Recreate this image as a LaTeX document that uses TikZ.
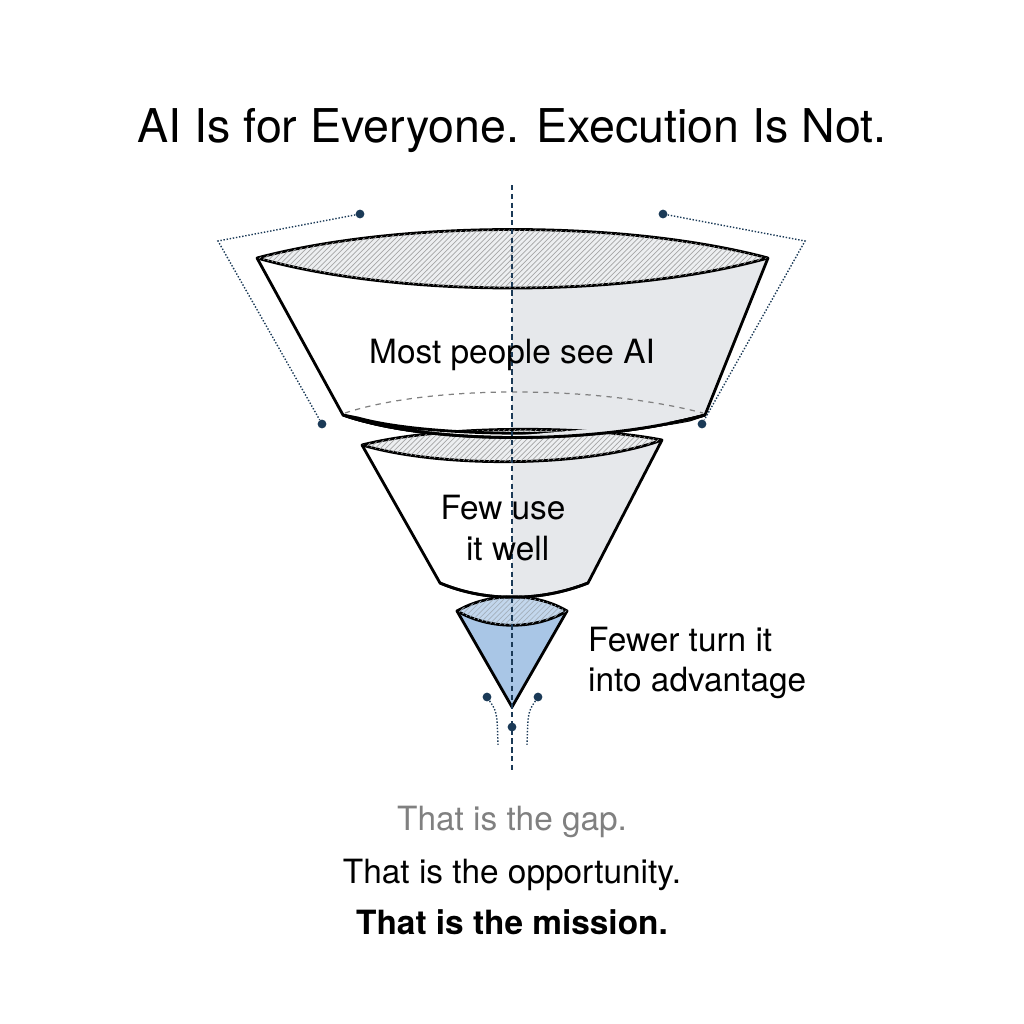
\documentclass[tikz,border=0pt]{standalone}
\usepackage{fontspec}
\setmainfont{TeX Gyre Heros}
\usetikzlibrary{patterns}
\definecolor{navy}{HTML}{1B3A57}
\definecolor{rimgray}{HTML}{E6E8EB}
\definecolor{tipblue}{HTML}{A9C6E6}
\tikzset{
  rim/.style={draw=black,line width=1.6pt,line join=round},
  lens/.style={rim,fill=rimgray!70,postaction={pattern=north east lines,pattern color=gray!70}},
  guide/.style={navy,densely dotted,line width=0.8pt},
  dot/.style={circle,fill=navy,inner sep=0pt,minimum size=5pt},
  label/.style={font=\fontsize{19}{23}\selectfont,align=center}
}
\begin{document}
\begin{tikzpicture}[x=0.02cm,y=-0.02cm]
  \useasboundingbox (0,0) rectangle (1024,1024);
  % top layer
  \fill[rimgray] (512,288) -- (600,282) -- (768,258) -- (705,415) .. controls (660,428) and (580,436) .. (512,436) -- cycle;
  \draw[gray,dashed,line width=0.7pt] (345,413) .. controls (430,385) and (595,385) .. (703,413);
  \draw[rim] (257,258) -- (343,415) .. controls (430,445) and (595,445) .. (705,415) -- (768,258);
  \draw[lens] (257,258) .. controls (400,220) and (625,220) .. (768,258)
    .. controls (625,298) and (400,298) .. cycle;
  % middle layer
  \fill[rimgray] (512,460) -- (662,440) -- (588,583) .. controls (565,592) and (540,597) .. (512,597) -- cycle;
  \draw[lens] (362,445) .. controls (440,425) and (585,425) .. (662,440)
    .. controls (585,468) and (440,468) .. cycle;
  \draw[rim] (362,445) -- (440,583) .. controls (485,602) and (540,602) .. (588,583) -- (662,440);
  \draw[rim,fill=white] (343,415) .. controls (430,445) and (595,445) .. (705,415)
    -- (690,420) .. controls (600,438) and (430,438) .. (358,418) -- cycle;
  \fill[rimgray] (512,436) -- (690,420) .. controls (650,430) and (560,437) .. (512,437) -- cycle;
  \draw[rim] (343,415) .. controls (430,445) and (595,445) .. (705,415);
  % tip
  \draw[rim,fill=tipblue] (457,611) -- (512,707) -- (567,611) -- cycle;
  \draw[rim,fill=tipblue!70,postaction={pattern=north east lines,pattern color=navy!40}]
    (457,611) .. controls (490,592) and (535,592) .. (567,611)
    .. controls (535,630) and (490,630) .. cycle;
  \draw[rim] (440,583) .. controls (485,602) and (540,602) .. (588,583);
  % guides
  \draw[navy,densely dashed,line width=0.8pt] (512,185) -- (512,770);
  \node[dot] (tl) at (360,214) {};
  \node[dot] (bl) at (322,424) {};
  \node[dot] (tr) at (663,214) {};
  \node[dot] (br) at (702,424) {};
  \coordinate (cl) at (218,241);
  \coordinate (cr) at (805,241);
  \draw[guide] (tl) -- (cl) -- (bl);
  \draw[guide] (tr) -- (cr) -- (br);
  \node[dot] (dl) at (487,697) {};
  \node[dot] (dr) at (538,697) {};
  \node[dot] (dm) at (512,727) {};
  \coordinate (el) at (498,745);
  \coordinate (er) at (527,745);
  \draw[guide] (dl) .. controls (497,712) .. (el);
  \draw[guide] (dr) .. controls (528,712) .. (er);
  % texts
  \node[font=\fontsize{26.5}{30}\selectfont] (title) at (512,131) {AI Is for Everyone. Execution Is Not.};
  \node[label] (most) at (512,355) {Most people see AI};
  \node[label] (few) at (503,528) {Few use\\\ it well};
  \node[label,align=left,anchor=west] (fewer) at (582,663) {Fewer turn it\\into advantage};
  \node[label,text=gray] (gap) at (512,822) {That is the gap.};
  \node[label] (opp) at (512,875) {That is the opportunity.};
  \node[label,font=\fontsize{19}{23}\selectfont\bfseries] (mission) at (512,922) {That is the mission.};
\end{tikzpicture}
\end{document}
